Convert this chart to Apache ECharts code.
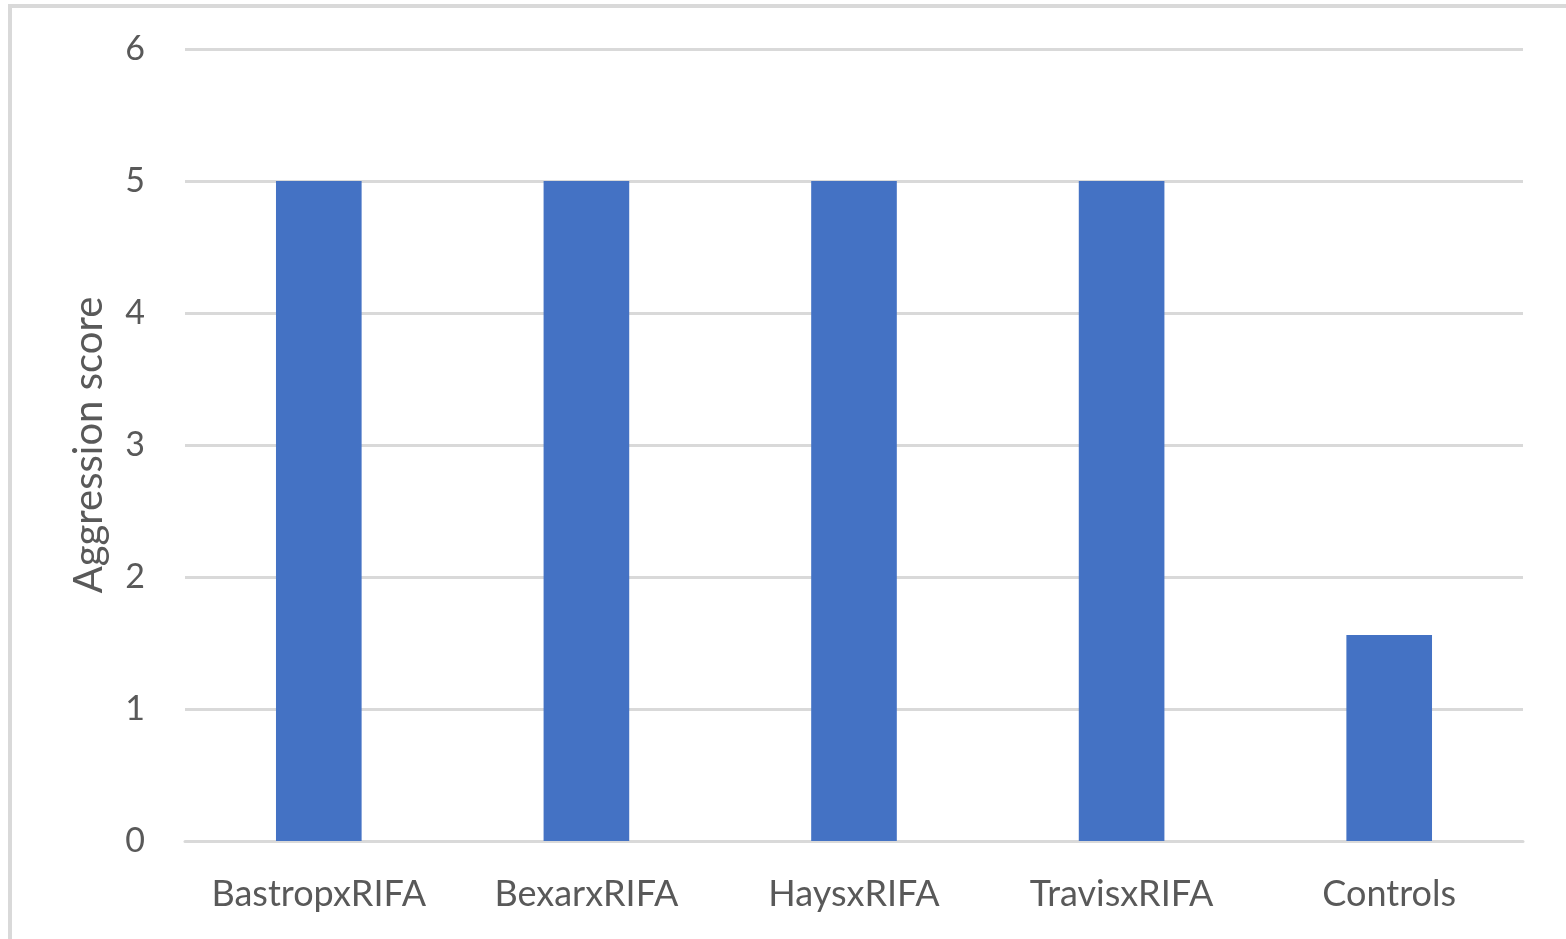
<!DOCTYPE html>
<html>
<head>
<meta charset="utf-8">
<script src="https://cdn.jsdelivr.net/npm/echarts@6/dist/echarts.min.js"></script>
<style>
  html, body { margin: 0; padding: 0; background: #fff; }
  #chart { width: 1566px; height: 939px; }
</style>
</head>
<body>
<div id="chart"></div>
<script>
// Mean aggression score per colony pairing
const categories = ['BastropxRIFA', 'BexarxRIFA', 'HaysxRIFA', 'TravisxRIFA', 'Controls'];
const scores = [5, 5, 5, 5, 1.56];
const yTicks = { min: 0, max: 6, interval: 1 };

const FONT = 'Lato';
const TEXT = '#595959';
const GRID = '#d9d9d9';

const chart = echarts.init(document.getElementById('chart'), null, { renderer: 'canvas' });
chart.setOption({
  backgroundColor: '#fff',
  animation: false,
  graphic: [{
    type: 'rect',
    shape: { x: 10, y: 6, width: 1700, height: 1100 },
    style: { fill: 'none', stroke: GRID, lineWidth: 4 },
    silent: true
  }],
  grid: { left: 185, right: 43, top: 49, bottom: 98 },
  xAxis: {
    type: 'category',
    data: categories,
    axisLine: { show: true, lineStyle: { color: GRID, width: 3 } },
    axisTick: { show: false },
    axisLabel: { color: TEXT, fontFamily: FONT, fontSize: 36, margin: 35, interval: 0, hideOverlap: false }
  },
  yAxis: {
    type: 'value',
    min: yTicks.min,
    max: yTicks.max,
    interval: yTicks.interval,
    name: 'Aggression score',
    nameLocation: 'middle',
    nameGap: 76,
    nameTextStyle: { color: TEXT, fontFamily: FONT, fontSize: 40 },
    axisLine: { show: false },
    axisTick: { show: false },
    splitLine: { lineStyle: { color: GRID, width: 3 } },
    axisLabel: { color: TEXT, fontFamily: FONT, fontSize: 34, margin: 40 }
  },
  series: [{
    type: 'bar',
    data: scores,
    barWidth: '32%',
    itemStyle: { color: '#4472c4' }
  }]
});
</script>
</body>
</html>
